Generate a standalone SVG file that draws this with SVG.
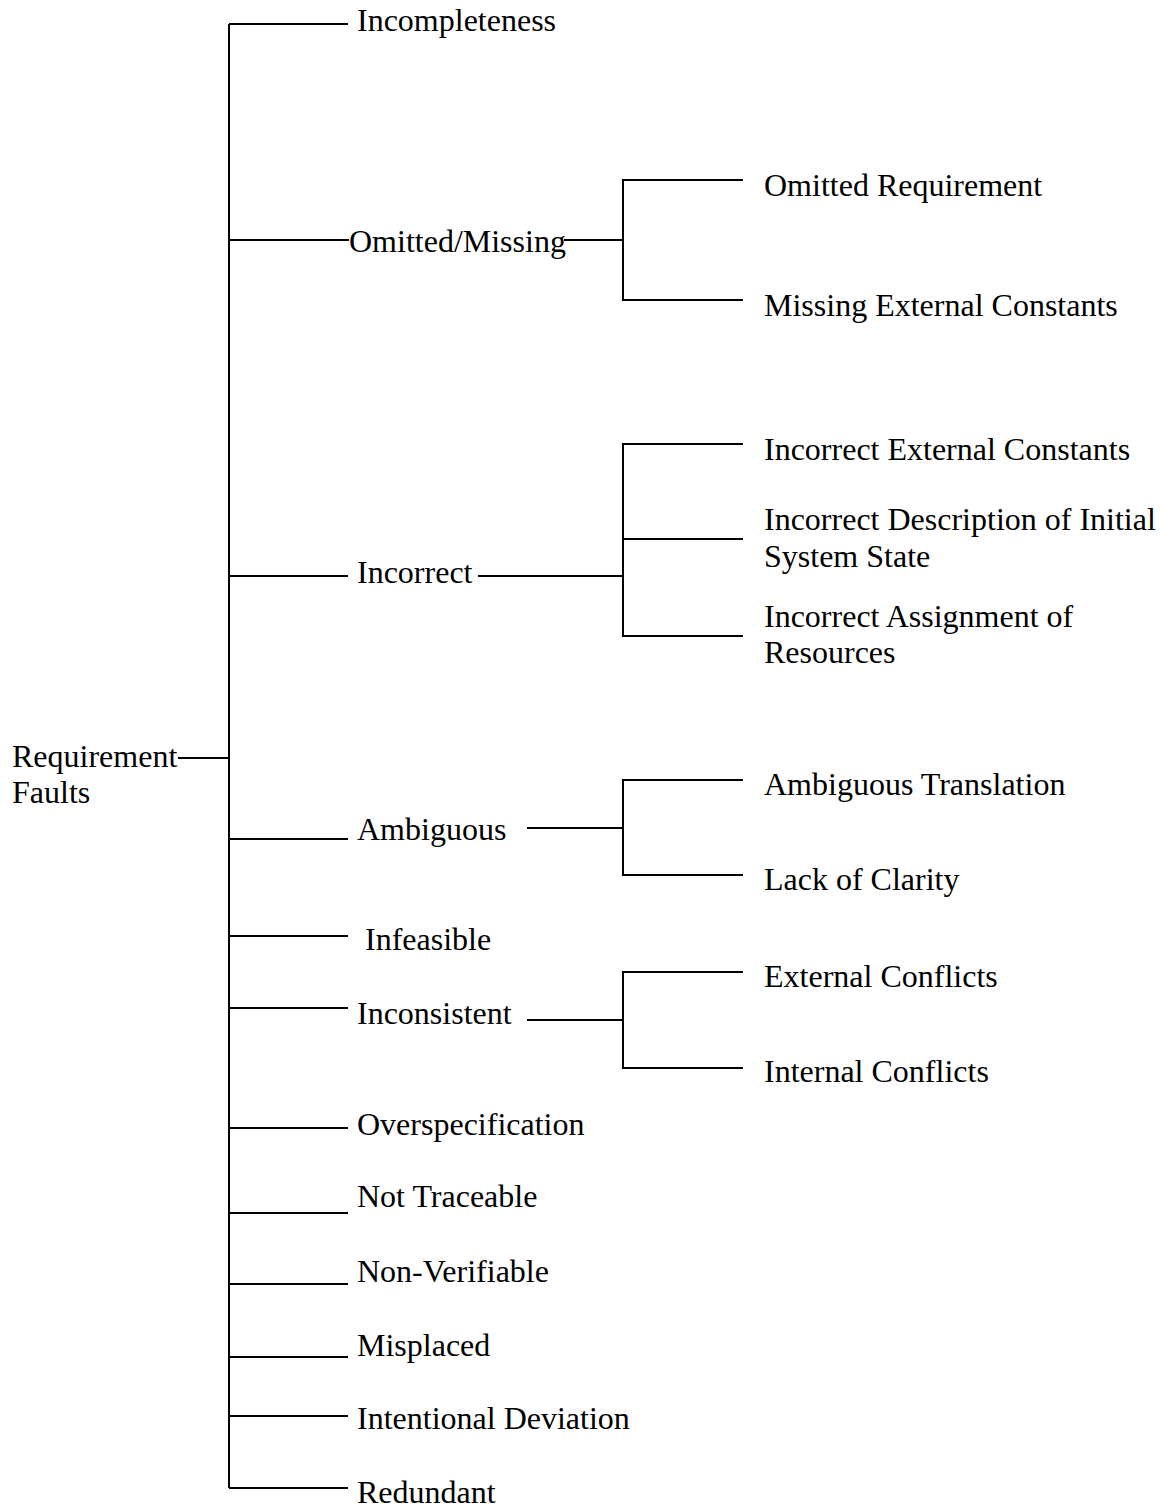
<svg xmlns="http://www.w3.org/2000/svg" width="1161" height="1507" viewBox="0 0 1161 1507">
<style>
  text { font-family: "Liberation Serif", "Times New Roman", serif; font-size: 32px; fill: #000; }
  .c { stroke: #000; stroke-width: 2; fill: none; }
</style>
<rect width="1161" height="1507" fill="#fff"/>
<g id="connectors" class="c">
  <path d="M178 758 H229"/>
  <path d="M229 24 V1488"/>
  <path d="M229 24 H348"/>
  <path d="M229 240 H349"/>
  <path d="M564 240 H623"/>
  <path d="M743 180 H623 V300 H743"/>
  <path d="M229 576 H348"/>
  <path d="M478 576 H623"/>
  <path d="M743 444 H623 V636 H743"/>
  <path d="M623 539 H743"/>
  <path d="M229 839 H348"/>
  <path d="M527 828 H623"/>
  <path d="M743 780 H623 V875 H743"/>
  <path d="M229 936 H348"/>
  <path d="M229 1008 H348"/>
  <path d="M527 1020 H623"/>
  <path d="M743 972 H623 V1068 H743"/>
  <path d="M229 1128 H348"/>
  <path d="M229 1213 H348"/>
  <path d="M229 1284 H348"/>
  <path d="M229 1357 H348"/>
  <path d="M229 1416 H348"/>
  <path d="M229 1488 H348"/>
</g>
<g id="root"><text x="12" y="767">Requirement</text><text x="12" y="803">Faults</text></g>
<g id="incompleteness"><text x="357" y="31">Incompleteness</text></g>
<g id="omitted-missing"><text x="349" y="252">Omitted/Missing</text></g>
<g id="omitted-requirement"><text x="764" y="196">Omitted Requirement</text></g>
<g id="missing-external-constants"><text x="764" y="316">Missing External Constants</text></g>
<g id="incorrect"><text x="357" y="583">Incorrect</text></g>
<g id="incorrect-external-constants"><text x="764" y="460">Incorrect External Constants</text></g>
<g id="incorrect-description"><text x="764" y="530">Incorrect Description of Initial</text><text x="764" y="567">System State</text></g>
<g id="incorrect-assignment"><text x="764" y="627">Incorrect Assignment of</text><text x="764" y="663">Resources</text></g>
<g id="ambiguous"><text x="357" y="840">Ambiguous</text></g>
<g id="ambiguous-translation"><text x="764" y="795">Ambiguous Translation</text></g>
<g id="lack-of-clarity"><text x="764" y="890">Lack of Clarity</text></g>
<g id="infeasible"><text x="365" y="950">Infeasible</text></g>
<g id="inconsistent"><text x="357" y="1024">Inconsistent</text></g>
<g id="external-conflicts"><text x="764" y="987">External Conflicts</text></g>
<g id="internal-conflicts"><text x="764" y="1082">Internal Conflicts</text></g>
<g id="overspecification"><text x="357" y="1135">Overspecification</text></g>
<g id="not-traceable"><text x="357" y="1207">Not Traceable</text></g>
<g id="non-verifiable"><text x="357" y="1282">Non-Verifiable</text></g>
<g id="misplaced"><text x="357" y="1356">Misplaced</text></g>
<g id="intentional-deviation"><text x="357" y="1429">Intentional Deviation</text></g>
<g id="redundant"><text x="357" y="1503">Redundant</text></g>
</svg>
